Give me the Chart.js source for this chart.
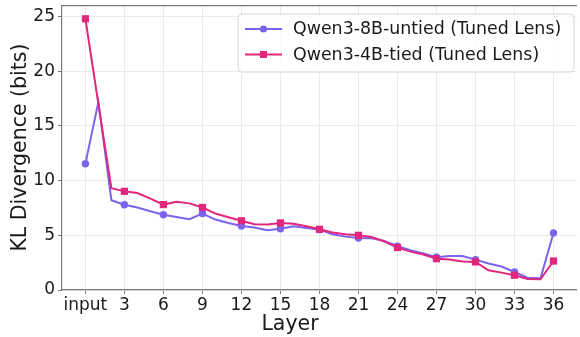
<!DOCTYPE html>
<html>
<head>
<meta charset="utf-8">
<script src="https://cdn.jsdelivr.net/npm/chart.js@4/dist/chart.umd.min.js"></script>
<style>
  html, body { margin: 0; padding: 0; background: #fff; overflow: hidden; }
  #wrap { width: 582px; height: 337px; }
</style>
</head>
<body>
<div id="wrap"><canvas id="c" width="582" height="337"></canvas></div>
<script>
const layers = [0,1,2,3,4,5,6,7,8,9,10,11,12,13,14,15,16,17,18,19,20,21,22,23,24,25,26,27,28,29,30,31,32,33,34,35,36];
const tickValues = [0,3,6,9,12,15,18,21,24,27,30,33,36];
const tickLabels = ['input','3','6','9','12','15','18','21','24','27','30','33','36'];
const yTicks = [0,5,10,15,20,25];
const seriesNames = ['Qwen3-8B-untied (Tuned Lens)', 'Qwen3-4B-tied (Tuned Lens)'];
const untied = [11.55,17.2,8.2,7.8,7.55,7.2,6.88,6.67,6.48,6.99,6.44,6.13,5.86,5.71,5.46,5.6,5.83,5.67,5.52,5.1,4.88,4.76,4.74,4.49,4.0,3.63,3.33,3.0,3.1,3.1,2.78,2.42,2.15,1.65,1.13,1.08,5.22];
const tied = [24.8,17.0,9.3,9.02,8.87,8.36,7.81,8.06,7.92,7.55,6.99,6.65,6.33,6.01,5.98,6.13,6.05,5.83,5.55,5.25,5.1,5.0,4.85,4.43,3.88,3.51,3.24,2.86,2.78,2.6,2.57,1.8,1.59,1.35,1.01,0.98,2.65];

const BLUE = '#7b63f0';
const PINK = '#e2267c';
const FONT = 'DejaVu Sans';
const TXT = '#1a1a1a';
const SPINE = '#7a7a7a';
const GRID = '#ebebeb';

function pts(vals) { return layers.map((l, i) => ({ x: l, y: vals[i] })); }
function markerRadius(r) { return ctx => (ctx.dataIndex % 3 === 0 ? r : 0); }
function noPad(scale) { scale.paddingTop = 0; scale.paddingBottom = 0; scale.paddingLeft = 0; scale.paddingRight = 0; }

const framePlugin = {
  id: 'frame',
  afterDraw(chart) {
    const { ctx, chartArea: a } = chart;
    ctx.save();
    // top spine
    ctx.strokeStyle = SPINE;
    ctx.lineWidth = 1.2;
    ctx.beginPath();
    ctx.moveTo(a.left, a.top + 0.5);
    ctx.lineTo(a.right, a.top + 0.5);
    ctx.stroke();

    // axis titles
    ctx.fillStyle = TXT;
    ctx.font = '20.5px "' + FONT + '"';
    ctx.textAlign = 'center';
    ctx.textBaseline = 'alphabetic';
    ctx.fillText('Layer', 290, 330);
    ctx.save();
    ctx.translate(26, (a.top + a.bottom) / 2);
    ctx.rotate(-Math.PI / 2);
    ctx.fillText('KL Divergence (bits)', 0, 0);
    ctx.restore();

    // legend
    const bx = 238, by = 14, bw = 336, bh = 58, r = 4;
    ctx.beginPath();
    ctx.moveTo(bx + r, by);
    ctx.arcTo(bx + bw, by, bx + bw, by + bh, r);
    ctx.arcTo(bx + bw, by + bh, bx, by + bh, r);
    ctx.arcTo(bx, by + bh, bx, by, r);
    ctx.arcTo(bx, by, bx + bw, by, r);
    ctx.closePath();
    ctx.fillStyle = 'rgba(255,255,255,0.8)';
    ctx.fill();
    ctx.strokeStyle = '#d6d6d6';
    ctx.lineWidth = 1;
    ctx.stroke();

    const rows = [29, 54.5];
    chart.data.datasets.forEach((ds, i) => {
      const y = rows[i];
      ctx.strokeStyle = ds.borderColor;
      ctx.lineWidth = 2;
      ctx.beginPath();
      ctx.moveTo(245, y);
      ctx.lineTo(282, y);
      ctx.stroke();
      ctx.fillStyle = ds.borderColor;
      if (ds.pointStyle === 'rect') {
        ctx.fillRect(263.5 - 3.5, y - 3.5, 7, 7);
      } else {
        ctx.beginPath();
        ctx.arc(263.5, y, 3.6, 0, Math.PI * 2);
        ctx.fill();
      }
      ctx.fillStyle = TXT;
      ctx.font = '17.4px "' + FONT + '"';
      ctx.textAlign = 'left';
      ctx.textBaseline = 'middle';
      ctx.fillText(ds.label, 293, y + 0.5);
    });
    ctx.restore();
  }
};

new Chart(document.getElementById('c'), {
  type: 'line',
  data: {
    datasets: [
      {
        label: seriesNames[0],
        data: pts(untied),
        borderColor: BLUE,
        backgroundColor: BLUE,
        borderWidth: 2,
        pointStyle: 'circle',
        pointRadius: markerRadius(3.7),
        pointBorderWidth: 0,
        pointHoverRadius: 0,
        tension: 0,
        order: 2
      },
      {
        label: seriesNames[1],
        data: pts(tied),
        borderColor: PINK,
        backgroundColor: PINK,
        borderWidth: 2,
        pointStyle: 'rect',
        pointRadius: markerRadius(5.1),
        pointBorderWidth: 0,
        pointHoverRadius: 0,
        tension: 0,
        order: 1
      }
    ]
  },
  options: {
    responsive: false,
    animation: false,
    events: [],
    layout: { padding: { top: 5, right: 0, left: 0, bottom: 0 } },
    plugins: { legend: { display: false }, tooltip: { enabled: false } },
    scales: {
      x: {
        type: 'linear',
        min: -1.8,
        max: 37.8,
        afterBuildTicks(scale) { scale.ticks = tickValues.map(v => ({ value: v })); },
        afterFit(scale) { scale.height = 47; noPad(scale); },
        grid: { color: GRID, lineWidth: 1, drawTicks: true, tickLength: 4, tickColor: SPINE },
        border: { display: true, color: SPINE, width: 1.2 },
        ticks: {
          font: { family: FONT, size: 17 },
          color: TXT,
          padding: 1,
          maxRotation: 0,
          autoSkip: false,
          callback: (v) => tickLabels[tickValues.indexOf(v)]
        },
        title: { display: false }
      },
      y: {
        min: 0,
        max: 26.05,
        afterBuildTicks(scale) { scale.ticks = yTicks.map(v => ({ value: v })); },
        afterFit(scale) { scale.width = 62; noPad(scale); },
        grid: { color: GRID, lineWidth: 1, drawTicks: true, tickLength: 4, tickColor: SPINE },
        border: { display: true, color: SPINE, width: 1.2 },
        ticks: {
          font: { family: FONT, size: 17 },
          color: TXT,
          padding: 3,
          callback: (v) => String(v)
        },
        title: { display: false }
      }
    }
  },
  plugins: [framePlugin]
});
</script>
</body>
</html>
